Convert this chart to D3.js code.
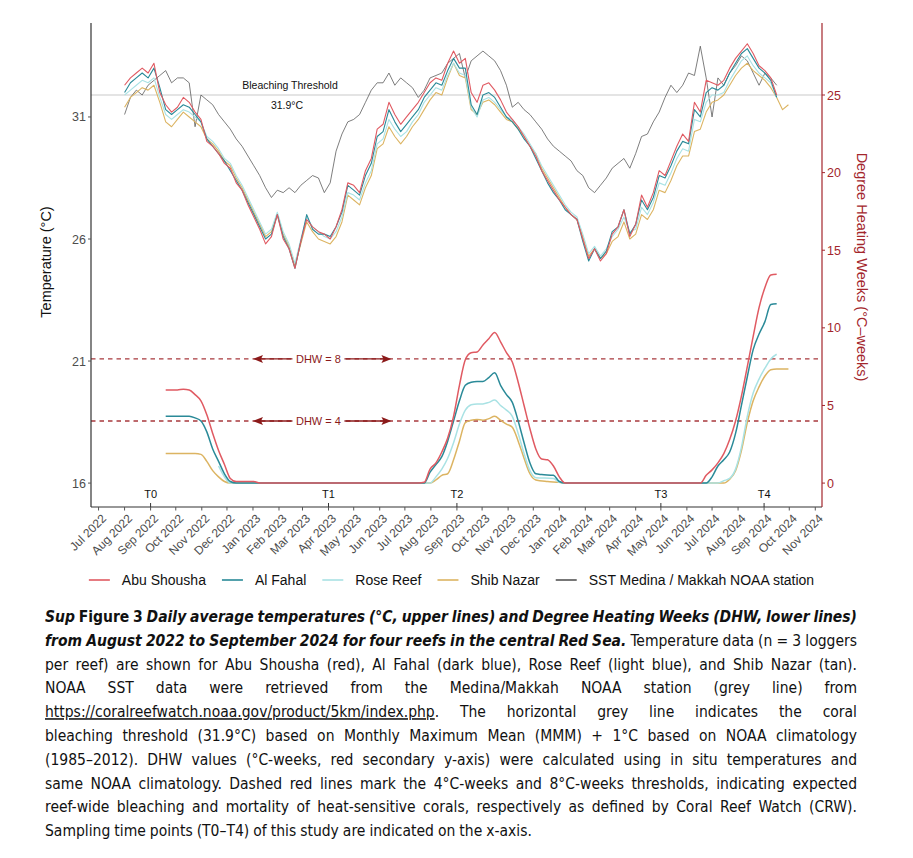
<!DOCTYPE html>
<html><head><meta charset="utf-8">
<script src="https://cdn.jsdelivr.net/npm/d3@7"></script>
<style>body{margin:0;background:#fff}svg{display:block}</style>
</head><body>
<svg id="c" width="913" height="858"></svg>
<script>
// ---------------- DATA ----------------
// weekly samples starting 2022-08-01 (week index 0), daily averages
const weekStart = "2022-08-01";
const seriesNames = ["Abu Shousha", "Al Fahal", "Rose Reef", "Shib Nazar", "SST Medina / Makkah NOAA station"];

const tempAbuShousha = [32.3,32.6,32.8,33.0,32.8,33.2,32.0,31.5,31.2,31.4,31.8,31.6,31.2,30.9,30.0,29.8,29.5,29.1,28.9,28.3,
 28.0,27.4,26.9,26.4,25.8,26.1,27.0,26.0,25.6,24.8,25.9,26.8,26.5,26.3,26.2,26.0,26.5,27.2,28.3,28.2,
 27.9,28.8,29.3,30.5,30.7,31.6,31.1,30.7,31.0,31.3,31.6,32.0,32.4,32.6,32.5,33.2,33.7,33.2,33.4,32.0,
 31.6,32.3,32.4,32.1,31.7,31.2,30.9,30.6,30.2,29.8,29.4,28.8,28.4,28.0,27.6,27.3,27.0,26.8,26.0,25.2,
 25.6,25.1,25.4,26.2,26.5,27.2,26.1,26.6,27.8,27.3,27.9,28.8,28.6,29.2,29.8,30.3,30.0,31.6,31.2,32.5,
 32.4,32.3,32.5,33.0,33.4,33.7,34.0,33.6,33.1,32.9,32.6,31.9];
const tempAlFahal = [32.0,32.4,32.6,32.8,32.6,33.0,32.2,31.3,31.1,31.3,31.5,31.4,31.1,30.8,30.1,29.8,29.5,29.2,28.8,28.4,
 28.0,27.5,27.0,26.5,26.0,26.2,27.0,26.1,25.6,24.8,25.9,27.0,26.4,26.2,26.2,26.1,26.5,27.1,28.2,28.0,
 27.8,28.6,29.1,30.2,30.4,31.3,30.8,30.4,30.7,31.0,31.3,31.8,32.1,32.4,32.3,32.9,33.4,33.0,33.0,31.5,
 31.1,31.9,32.0,31.8,31.4,31.0,30.8,30.5,30.1,29.8,29.3,28.8,28.3,27.9,27.6,27.2,27.0,26.8,25.9,25.1,
 25.6,25.2,25.5,26.3,26.5,27.2,26.2,26.6,27.6,27.2,27.7,28.6,28.5,29.0,29.6,30.0,29.9,31.3,31.0,32.0,
 32.2,32.1,32.3,32.8,33.2,33.6,33.8,33.4,33.0,32.8,32.5,31.8];
const tempRoseReef = [31.9,32.1,32.3,32.5,32.4,32.6,31.8,31.1,30.9,31.1,31.3,31.2,31.0,30.8,30.2,30.0,29.7,29.3,29.1,28.6,
 28.2,27.7,27.2,26.7,26.2,26.4,27.1,26.3,25.8,25.0,26.0,26.9,26.5,26.3,26.1,26.0,26.3,26.9,27.9,27.8,
 27.6,28.3,28.8,29.9,30.1,30.9,30.5,30.2,30.4,30.8,31.1,31.6,31.9,32.2,32.1,32.7,33.2,32.8,32.7,31.4,
 31.0,31.7,31.8,31.6,31.3,31.0,30.9,30.6,30.3,29.9,29.5,29.0,28.6,28.2,27.8,27.4,27.1,26.9,26.2,25.4,
 25.7,25.3,25.6,26.1,26.4,26.9,26.3,26.4,27.3,27.0,27.5,28.3,28.2,28.7,29.3,29.7,29.6,30.9,30.8,31.6,
 31.9,31.9,32.0,32.5,32.9,33.3,33.5,33.1,32.8,32.6,32.4,31.8];
const tempShibNazar = [31.4,31.8,32.0,32.2,32.1,32.3,31.6,30.8,30.6,30.9,31.2,31.0,30.8,30.6,30.1,29.9,29.6,29.2,29.0,28.5,
 28.1,27.6,27.1,26.6,26.1,26.3,27.0,26.2,25.7,24.9,25.8,26.7,26.3,26.0,25.9,25.8,26.1,26.7,27.8,27.6,
 27.4,28.1,28.6,29.7,29.9,30.6,30.2,29.9,30.2,30.6,30.9,31.3,31.7,32.0,31.9,32.6,33.2,32.7,32.6,31.3,
 31.1,31.6,31.7,31.5,31.2,30.9,30.8,30.5,30.2,29.8,29.5,28.9,28.5,28.1,27.7,27.3,27.0,26.8,26.1,25.3,
 25.6,25.2,25.4,25.9,26.1,26.7,26.0,26.2,27.0,26.8,27.2,28.0,27.9,28.4,29.0,29.4,29.4,30.4,30.5,31.2,
 31.6,31.7,31.9,32.3,32.7,33.0,33.2,32.9,32.7,32.5,32.2,31.8,31.3,31.5];
const tempNOAA = [31.1,31.8,32.1,31.9,32.3,32.5,32.7,32.9,32.4,32.6,32.6,32.4,30.6,31.9,31.7,31.5,31.1,30.8,30.5,30.1,
 29.8,29.4,29.0,28.6,28.1,27.7,28.0,27.9,28.1,27.9,28.2,28.4,28.6,28.5,27.9,28.3,29.6,30.3,30.8,30.9,
 31.1,31.6,32.1,32.4,32.4,32.8,32.3,32.6,32.4,32.2,31.8,32.1,32.6,32.7,32.8,33.2,33.4,33.6,32.6,33.3,
 33.5,33.7,33.5,33.3,32.9,32.3,31.4,31.6,31.3,31.1,30.8,30.5,30.1,29.8,29.6,29.4,29.2,28.8,28.6,28.1,
 27.9,28.2,28.5,28.9,29.1,29.3,28.9,29.5,30.2,30.3,30.8,31.2,31.8,32.3,32.0,32.3,32.8,32.7,33.9,32.6,
 31.0,32.6,32.3,32.8,33.1,33.5,33.3,32.8,32.3,32.8,32.6,32.3];

// Degree Heating Weeks: [week index, DHW]
const dhwAbuShousha = [[7,6.0],[8,6.0],[9,6.0],[10,6.05],[11,6.0],[12,5.7],[13,5.3],[14,4.4],[15,3.2],[16,2.1],[17,1.2],[18,0.3],[19,0.1],[22,0.1],[23,0],
 [50,0],[51,0.05],[52,0.9],[53,1.3],[54,2.0],[55,2.9],[56,4.3],[57,6.3],[58,7.95],[59,8.4],[60,8.45],[61,8.9],[62,9.3],[63,9.7],[64,9.1],[65,8.4],[66,7.8],[67,6.5],[68,5.0],[69,3.5],[70,2.2],[71,1.55],[72,1.5],[73,1.1],[74,0.4],[75,0],
 [98,0],[99,0.5],[100,0.85],[101,1.3],[102,1.9],[103,2.8],[104,4.0],[105,5.6],[106,7.5],[107,9.45],[108,11.3],[109,12.6],[110,13.4],[111,13.45]];
const dhwAlFahal = [[7,4.3],[11,4.3],[12,4.2],[13,4.0],[14,3.3],[15,2.2],[16,1.4],[17,0.6],[18,0.1],[19,0],
 [51,0],[52,0.7],[53,1.2],[54,1.7],[55,2.7],[56,4.0],[57,5.3],[58,6.3],[59,6.5],[60,6.55],[61,6.55],[62,6.8],[63,7.1],[64,6.3],[65,5.7],[66,5.2],[67,4.0],[68,2.6],[69,1.3],[70,0.6],[71,0.55],[73,0.5],[74,0.1],[75,0],
 [99,0],[100,0.4],[101,1.1],[102,1.5],[103,2.0],[104,3.2],[105,5.0],[106,6.85],[107,8.6],[108,9.6],[109,10.4],[110,11.5],[111,11.55]];
const dhwRoseReef = [[16,1.1],[17,0.4],[18,0],
 [52,0],[53,0.4],[54,0.9],[55,1.6],[56,2.6],[57,3.8],[58,4.7],[59,5.05],[60,5.1],[61,5.1],[62,5.2],[63,5.35],[64,5.0],[65,4.7],[66,4.3],[67,3.2],[68,1.9],[69,0.8],[70,0.35],[73,0.3],[74,0.05],[75,0],
 [101,0],[102,0.15],[103,0.3],[104,0.9],[105,2.3],[106,4.3],[107,5.8],[108,6.7],[109,7.4],[110,8.0],[111,8.3]];
const dhwShibNazar = [[7,1.9],[12,1.9],[13,1.85],[14,1.4],[15,0.8],[16,0.4],[17,0.1],[18,0],
 [52,0],[53,0.2],[54,0.5],[55,0.6],[56,1.5],[57,2.7],[58,3.9],[59,4.05],[60,4.1],[61,4.05],[62,4.15],[63,4.3],[64,4.05],[65,3.8],[66,3.6],[67,2.7],[68,1.6],[69,0.6],[70,0.2],[72,0.1],[74,0.05],[75,0],
 [102,0],[103,0.25],[104,0.8],[105,2.1],[106,3.9],[107,5.3],[108,6.2],[109,6.9],[110,7.3],[111,7.35],[113,7.35]];

const bleachingThreshold = 31.9;
const dhwThresholds = [8, 4];
const tempTicks = [16, 21, 26, 31];
const dhwTicks = [0, 5, 10, 15, 20, 25];
const samplingPoints = [["T0","2022-09-01"],["T1","2023-04-01"],["T2","2023-09-01"],["T3","2024-05-01"],["T4","2024-09-01"]];
const colors = ["#e05a62", "#2a8a98", "#a9e2e4", "#dcb462", "#555555"];

const captionLines = [
 [["bi","Sup "],["b","Figure 3 "],["bi","Daily average temperatures (°C, upper lines) and Degree Heating Weeks (DHW, lower lines)"]],
 [["bi","from August 2022 to September 2024 for four reefs in the central Red Sea. "],["n","Temperature data (n = 3 loggers"]],
 [["n","per reef) are shown for Abu Shousha (red), Al Fahal (dark blue), Rose Reef (light blue), and Shib Nazar (tan)."]],
 [["n","NOAA SST data were retrieved from the Medina/Makkah NOAA station (grey line) from"]],
 [["u","https://coralreefwatch.noaa.gov/product/5km/index.php"],["n",". The horizontal grey line indicates the coral"]],
 [["n","bleaching threshold (31.9°C) based on Monthly Maximum Mean (MMM) + 1°C based on NOAA climatology"]],
 [["n","(1985–2012). DHW values (°C-weeks, red secondary y-axis) were calculated using in situ temperatures and"]],
 [["n","same NOAA climatology. Dashed red lines mark the 4°C-weeks and 8°C-weeks thresholds, indicating expected"]],
 [["n","reef-wide bleaching and mortality of heat-sensitive corals, respectively as defined by Coral Reef Watch (CRW)."]],
 [["n","Sampling time points (T0–T4) of this study are indicated on the x-axis."]]
];

// ---------------- CHART ----------------
const svg = d3.select("#c");
const FONT = "'Liberation Sans', Arial, Helvetica, sans-serif";
const pL = 91, pR = 822, pT = 23, pB = 507;
const dhwRed = "#a3262c";

const x = d3.scaleUtc().domain([Date.UTC(2022,5,22), Date.UTC(2024,10,9)]).range([pL, pR]);
const yT = d3.scaleLinear().domain([15.02, 34.85]).range([pB, pT]);
const yD = d3.scaleLinear().domain([(15.02 - 16) * 25 / 15.9, (34.85 - 16) * 25 / 15.9]).range([pB, pT]);

const t0 = new Date(weekStart + "T00:00:00Z");
const wDate = i => d3.utcDay.offset(t0, 7 * i);

// threshold line
svg.append("line").attr("x1", pL).attr("x2", pR).attr("y1", yT(bleachingThreshold)).attr("y2", yT(bleachingThreshold))
  .attr("stroke", "#c9c9c9").attr("stroke-width", 1.2);

// temperature lines
const tLine = d3.line().defined(d => d != null).x((d, i) => x(wDate(i))).y(d => yT(d));
const tempSeries = [tempNOAA, tempShibNazar, tempRoseReef, tempAlFahal, tempAbuShousha];
const tempColors = [colors[4], colors[3], colors[2], colors[1], colors[0]];
tempSeries.forEach((s, k) => {
  svg.append("path").attr("d", tLine(s)).attr("fill", "none").attr("stroke", tempColors[k])
    .attr("stroke-width", k === 0 ? 0.9 : 1.1).attr("stroke-opacity", k === 0 ? 0.85 : 1).attr("stroke-linejoin", "round");
});

// DHW threshold lines & labels
dhwThresholds.forEach(v => {
  const y = yD(v);
  svg.append("line").attr("x1", pL).attr("x2", pR).attr("y1", y).attr("y2", y)
    .attr("stroke", "#a8393d").attr("stroke-width", 1.3).attr("stroke-dasharray", "4.5,4");
  const cx = x(new Date(Date.UTC(2023,2,20)));
  svg.append("rect").attr("x", cx - 24).attr("y", y - 7).attr("width", 48).attr("height", 14).attr("fill", "#fff");
  svg.append("text").attr("x", cx).attr("y", y + 4).attr("text-anchor", "middle").attr("font-family", FONT)
    .attr("font-size", 11).attr("fill", "#8b1a1a").text("DHW = " + v);
  const a1 = x(new Date(Date.UTC(2023,0,1))), a2 = x(new Date(Date.UTC(2023,5,15)));
  svg.append("line").attr("x1", cx - 26).attr("x2", a1 + 6).attr("y1", y).attr("y2", y).attr("stroke", "#8b1a1a").attr("stroke-width", 1.3);
  svg.append("line").attr("x1", cx + 26).attr("x2", a2 - 6).attr("y1", y).attr("y2", y).attr("stroke", "#8b1a1a").attr("stroke-width", 1.3);
  svg.append("path").attr("d", `M${a1},${y}L${a1+10},${y-4}L${a1+8},${y}L${a1+10},${y+4}Z`).attr("fill", "#8b1a1a");
  svg.append("path").attr("d", `M${a2},${y}L${a2-10},${y-4}L${a2-8},${y}L${a2-10},${y+4}Z`).attr("fill", "#8b1a1a");
});

// DHW lines
const dLine = d3.line().x(d => x(wDate(d[0]))).y(d => yD(d[1])).curve(d3.curveMonotoneX);
const dhwSeries = [dhwShibNazar, dhwRoseReef, dhwAlFahal, dhwAbuShousha];
const dhwColors = [colors[3], colors[2], colors[1], colors[0]];
dhwSeries.forEach((s, k) => {
  svg.append("path").attr("d", dLine(s)).attr("fill", "none").attr("stroke", dhwColors[k]).attr("stroke-width", 1.5);
});

// Bleaching threshold label
svg.append("text").attr("x", 290).attr("y", yT(bleachingThreshold) - 6).attr("text-anchor", "middle")
  .attr("font-family", FONT).attr("font-size", 10.5).attr("fill", "#111").text("Bleaching Threshold");
svg.append("text").attr("x", 287).attr("y", yT(bleachingThreshold) + 14).attr("text-anchor", "middle")
  .attr("font-family", FONT).attr("font-size", 10.5).attr("fill", "#111").text(bleachingThreshold + "°C");

// Axes
const axisCol = "#333";
svg.append("line").attr("x1", pL).attr("x2", pL).attr("y1", pT).attr("y2", pB).attr("stroke", axisCol).attr("stroke-width", 1.2);
svg.append("line").attr("x1", pL).attr("x2", pR).attr("y1", pB).attr("y2", pB).attr("stroke", axisCol).attr("stroke-width", 1.2);
svg.append("line").attr("x1", pR).attr("x2", pR).attr("y1", pT).attr("y2", pB).attr("stroke", dhwRed).attr("stroke-width", 1.2);

const gL = svg.append("g");
tempTicks.forEach(t => {
  gL.append("line").attr("x1", pL - 3).attr("x2", pL).attr("y1", yT(t)).attr("y2", yT(t)).attr("stroke", "#555");
  gL.append("text").attr("x", pL - 5).attr("y", yT(t) + 4.5).attr("text-anchor", "end").attr("font-family", FONT)
    .attr("font-size", 12.5).attr("fill", "#4d4d4d").text(t);
});
const gR = svg.append("g");
dhwTicks.forEach(t => {
  gR.append("line").attr("x1", pR).attr("x2", pR + 3).attr("y1", yD(t)).attr("y2", yD(t)).attr("stroke", dhwRed);
  gR.append("text").attr("x", pR + 5).attr("y", yD(t) + 4.5).attr("font-family", FONT)
    .attr("font-size", 12.5).attr("fill", dhwRed).text(t);
});

// x axis
const months = d3.utcMonth.range(new Date(Date.UTC(2022,6,1)), new Date(Date.UTC(2024,10,2)));
const fmt = d3.utcFormat("%b %Y");
months.forEach(m => {
  const xx = x(m);
  svg.append("line").attr("x1", xx).attr("x2", xx).attr("y1", pB).attr("y2", pB + 3.5).attr("stroke", "#555");
  svg.append("text").attr("transform", `translate(${xx + 2},${pB + 6}) rotate(-45)`).attr("text-anchor", "end")
    .attr("dy", "0.75em").attr("font-family", FONT).attr("font-size", 12).attr("fill", "#4d4d4d").text(fmt(m));
});
samplingPoints.forEach(([lab, d]) => {
  const xx = x(new Date(d + "T00:00:00Z"));
  svg.append("line").attr("x1", xx).attr("x2", xx).attr("y1", pB - 4).attr("y2", pB).attr("stroke", "#333");
  svg.append("text").attr("x", xx).attr("y", pB - 9).attr("text-anchor", "middle").attr("font-family", FONT)
    .attr("font-size", 11).attr("fill", "#111").text(lab);
});

// axis titles
svg.append("text").attr("transform", `translate(51,262) rotate(-90)`).attr("text-anchor", "middle")
  .attr("font-family", FONT).attr("font-size", 14.5).attr("fill", "#111").text("Temperature (°C)");
svg.append("text").attr("transform", `translate(857,267) rotate(90)`).attr("text-anchor", "middle")
  .attr("font-family", FONT).attr("font-size", 14.5).attr("fill", dhwRed).text("Degree Heating Weeks (°C\u2013weeks)");

// legend
const leg = svg.append("g");
let lx = 0;
seriesNames.forEach((n, i) => {
  leg.append("line").attr("x1", lx).attr("x2", lx + 21).attr("y1", 0).attr("y2", 0).attr("stroke", colors[i]).attr("stroke-width", 1.6);
  const t = leg.append("text").attr("x", lx + 33).attr("y", 5).attr("font-family", FONT).attr("font-size", 14).attr("fill", "#111").text(n);
  lx += 33 + t.node().getComputedTextLength() + 16;
});
lx -= 16;
leg.attr("transform", `translate(${451.5 - lx / 2},580)`);

// caption (justified)
const CF = "'Liberation Sans Narrow', 'DejaVu Sans Condensed', Arial, sans-serif";
const cap = svg.append("g").attr("font-family", CF).attr("font-size", 15.5).attr("fill", "#111");
const cL = 45, cR = 857;
captionLines.forEach((segs, li) => {
  const words = [];
  let cur = [];
  segs.forEach(([st, txt]) => {
    txt.split(" ").forEach((p, j) => {
      if (j > 0) { if (cur.length) words.push(cur); cur = []; }
      if (p.length) cur.push([st, p]);
    });
  });
  if (cur.length) words.push(cur);
  const y = 622 + li * 23.8;
  const nodes = words.map(w => {
    const t = cap.append("text").attr("y", y);
    w.forEach(([st, p]) => {
      const ts = t.append("tspan").text(p);
      if (st === "b" || st === "bi") ts.attr("font-weight", "bold");
      if (st === "bi") ts.attr("font-style", "italic");
      if (st === "u") ts.style("text-decoration", "underline");
    });
    return t;
  });
  const widths = nodes.map(n => n.node().getComputedTextLength());
  const tot = d3.sum(widths);
  const last = li === captionLines.length - 1;
  let gap = last ? 4 : (cR - cL - tot) / (words.length - 1);
  let sc = 1;
  if (gap < 2.5) { gap = 2.5; sc = (cR - cL) / (tot + gap * (words.length - 1)); }
  let cx = 0;
  nodes.forEach((n, i) => { n.attr("x", cx); cx += widths[i] + gap; });
  nodes.forEach(n => n.attr("transform", `translate(${cL},0) scale(${sc},1)`));
});
</script>
</body></html>
